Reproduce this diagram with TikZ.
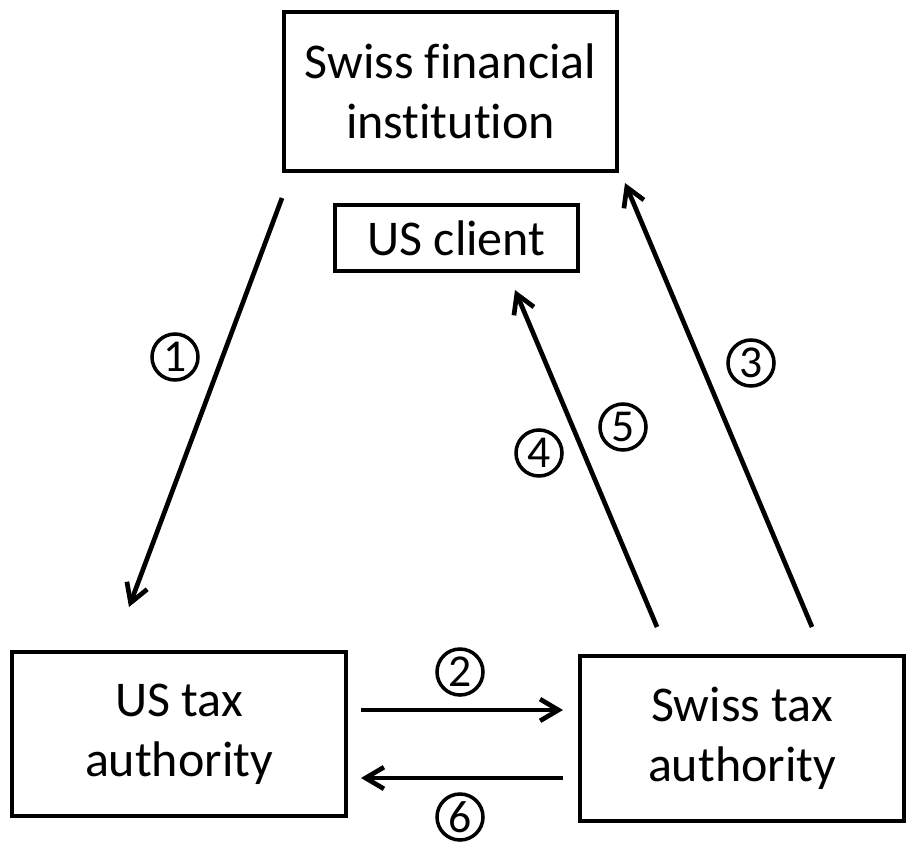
\documentclass[tikz,border=0pt]{standalone}
\usepackage{fontspec}
\setmainfont{Carlito}[Ligatures=NoCommon]
\usetikzlibrary{arrows.meta}
\tikzset{
  fl box/.style={draw, line width=4pt, align=center, inner sep=0pt,
                 font=\fontsize{42.7}{51.5}\selectfont},
  fl arr/.style={-{Straight Barb[length=5.5mm, width=6.5mm]}, line width=4pt},
  fl num/.style={circle, draw, line width=3pt, minimum size=1.38cm, inner sep=0pt,
                 font=\fontsize{39}{39}\selectfont},
}

\begin{document}
\begin{tikzpicture}[x=0.03cm, y=-0.03cm]
  \useasboundingbox (0,0) rectangle (907,844);
  % boxes
  \node[fl box, minimum width=9.99cm, minimum height=4.77cm] (fin) at (450.5,91.5) {Swiss financial\\institution};
  \node[fl box, minimum width=7.29cm, minimum height=1.98cm] (client) at (456.5,238) {US client};
  \node[fl box, minimum width=10.02cm, minimum height=4.92cm] (ustax) at (179,734) {US tax\\authority};
  \node[fl box, minimum width=9.72cm, minimum height=4.95cm] (swtax) at (742,738.5) {Swiss tax\\authority};
  % arrow ends
  \coordinate (a1s) at (282,198);  \coordinate (a1e) at (129,607);
  \coordinate (a2s) at (361,710);  \coordinate (a2e) at (563,710);
  \coordinate (a3s) at (812,627);  \coordinate (a3e) at (625,183);
  \coordinate (a4s) at (657,627);  \coordinate (a4e) at (515,290);
  \coordinate (a6s) at (563,778);  \coordinate (a6e) at (361,778);
  \foreach \s/\e in {a1s/a1e, a2s/a2e, a3s/a3e, a4s/a4e, a6s/a6e} \draw[fl arr] (\s) -- (\e);
  % step numbers
  \foreach \n/\x/\y in {1/175/357, 2/460/672, 3/751/363, 4/539/453, 5/623/427, 6/460/817}
    \node[fl num] (n\n) at (\x,\y) {\n};
\end{tikzpicture}
\end{document}
